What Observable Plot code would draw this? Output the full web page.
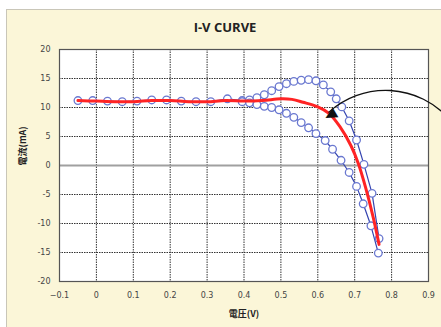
<!DOCTYPE html>
<html><head><meta charset="utf-8">
<script src="https://cdn.jsdelivr.net/npm/d3@7"></script>
<script src="https://cdn.jsdelivr.net/npm/@observablehq/plot@0.6"></script>
<style>
body{margin:0;background:#fff;}
#wrap{position:relative;width:441px;height:327px;overflow:hidden;}
#bg{position:absolute;left:6px;top:9px;width:440px;height:330px;background:#FBF6D8;border:1px solid #c9c6b8;}
#title{position:absolute;left:0;width:450px;top:18px;text-align:center;font:bold 13px "Open Sans","Liberation Sans",sans-serif;color:#222;}
#chart{position:absolute;left:0;top:0;}
</style></head><body>
<div id="wrap"><div id="bg"></div><div id="title">I-V CURVE</div><div id="chart"></div></div>
<script>
const xTicks = [-0.1,0,0.1,0.2,0.3,0.4,0.5,0.6,0.7,0.8,0.9];
const yTicks = [-20,-15,-10,-5,0,5,10,15,20];
const xLabel = "電圧(V)";
const yLabel = "電流(mA)";

const upperV = [-0.05,-0.01,0.03,0.07,0.11,0.15,0.19,0.23,0.27,0.31,0.355,0.395,0.415,0.435,0.455,0.475,0.495,0.515,0.535,0.555,0.575,0.595,0.615,0.635,0.65,0.665,0.685,0.705,0.725,0.747,0.766];
const upperI = [11.2,11.2,11.1,11.0,11.1,11.3,11.3,11.1,11.0,11.0,11.5,11.2,11.3,11.7,12.2,12.9,13.6,14.1,14.5,14.7,14.8,14.6,13.9,12.7,11.5,10.1,7.7,4.4,0.2,-4.8,-12.6];

const lowerV = [0.395,0.415,0.435,0.455,0.475,0.495,0.515,0.535,0.555,0.575,0.595,0.62,0.64,0.663,0.685,0.705,0.723,0.744,0.764];
const lowerI = [11.0,10.8,10.5,10.2,10.0,9.6,9.0,8.3,7.4,6.5,5.5,4.3,2.8,0.9,-1.2,-3.6,-6.6,-10.4,-15.1];

const redV = [-0.05,0.0,0.05,0.1,0.15,0.2,0.25,0.3,0.35,0.4,0.45,0.5,0.53,0.56,0.6,0.63,0.66,0.69,0.71,0.73,0.75,0.766];
const redI = [11.2,11.1,11.0,11.0,11.2,11.2,11.0,11.0,11.2,11.1,11.2,11.5,11.4,10.9,10.1,9.0,6.7,3.4,0.3,-3.9,-8.9,-13.6];

// annotation arrow (data coordinates)
const arrowFrom = {x: 0.955, y: 8.1};
const arrowTo = {x: 0.63, y: 9.2};
const headAt = {x: 0.632, y: 8.6};

const upper = upperV.map((v,i)=>({v, i: upperI[i]}));
const lower = lowerV.map((v,i)=>({v, i: lowerI[i]}));
const red = redV.map((v,i)=>({v, i: redI[i]}));

const plot = Plot.plot({
  width: 441, height: 327,
  marginLeft: 59, marginRight: 13, marginTop: 49, marginBottom: 46,
  style: {background: "transparent", fontFamily: "DejaVu Sans", fontSize: "8px", color: "#333", overflow: "visible"},
  x: {domain: [-0.1, 0.9], label: null},
  y: {domain: [-20, 20], label: null},
  marks: [
    Plot.frame({fill: "white", stroke: null}),
    Plot.gridX(xTicks, {stroke: "#333", strokeOpacity: 1, strokeWidth: 1, strokeDasharray: "1.5,1"}),
    Plot.gridY(yTicks, {stroke: "#333", strokeOpacity: 1, strokeWidth: 1, strokeDasharray: "1.5,1"}),
    Plot.ruleY([0], {stroke: "#a0a0a0", strokeWidth: 2}),
    Plot.frame({stroke: "#555", strokeWidth: 1.2}),
    Plot.axisX(xTicks, {tickSize: 0, tickPadding: 11, tickFormat: d => d === 0 ? "0" : d3.format(".1f")(d).replace("-", "\u2212"), fill: "#444"}),
    Plot.axisY(yTicks, {tickSize: 0, tickPadding: 9, tickFormat: d => String(d), fill: "#444"}),
    Plot.line(upper, {x: "v", y: "i", stroke: "#3444b0", strokeWidth: 1.2}),
    Plot.line(lower, {x: "v", y: "i", stroke: "#3444b0", strokeWidth: 1.2}),
    Plot.dot(upper, {x: "v", y: "i", r: 3.8, fill: "white", stroke: "#6a78d0", strokeWidth: 1.3}),
    Plot.dot(lower, {x: "v", y: "i", r: 3.8, fill: "white", stroke: "#6a78d0", strokeWidth: 1.3}),
    Plot.line(red, {x: "v", y: "i", curve: "catmull-rom", stroke: "#ff2424", strokeWidth: 3}),
    Plot.arrow([{...arrowFrom, x2: arrowTo.x, y2: arrowTo.y}], {x1: "x", y1: "y", x2: "x2", y2: "y2", bend: -45, stroke: "#111", strokeWidth: 1.3, headLength: 0}),
    Plot.text([headAt], {x: "x", y: "y", text: () => "\u25B2", fontSize: 15, fontFamily: "DejaVu Sans", fill: "#111", rotate: 240}),
    Plot.text([xLabel], {frameAnchor: "bottom", dy: 35, text: d => d, fontWeight: "bold", fontSize: 9, fontFamily: "Noto Sans CJK JP", fill: "#222"}),
    Plot.text([yLabel], {frameAnchor: "left", dx: -36, rotate: -90, text: d => d, fontWeight: "bold", fontSize: 9, fontFamily: "Noto Sans CJK JP", fill: "#222"})
  ]
});
document.getElementById("chart").append(plot);
</script>
</body></html>
